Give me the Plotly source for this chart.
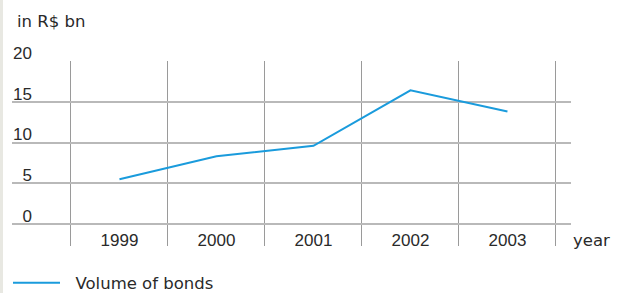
import plotly.graph_objects as go

years = [1999, 2000, 2001, 2002, 2003]
volume = [5.5, 8.3, 9.6, 16.4, 13.8]
y_ticks = [0, 5, 10, 15, 20]
x_grid = [1998.5, 1999.5, 2000.5, 2001.5, 2002.5, 2003.5]
series_name = "Volume of bonds"

FONT = "Liberation Sans"
FONT2 = "DejaVu Sans"
TXT = "#2a2a2a"
BLUE = "#1a9bdc"
FS = 17
FS2 = 16.5

W, H = 624, 293
L, R, T, B = 12, 53, 61, 47
pw = W - L - R
ph = H - T - B

xr = [1997.892, 2003.655]
yr = [-2.7, 20]

fig = go.Figure()
fig.add_trace(go.Scatter(x=years, y=volume, mode="lines", name="\u00a0\u00a0" + series_name,
                         line=dict(color=BLUE, width=2), showlegend=True))
# helper trace for the label axes
fig.add_trace(go.Scatter(x=years, y=volume, mode="lines", xaxis="x2", yaxis="y2",
                         line=dict(color="rgba(0,0,0,0)"), showlegend=False, hoverinfo="skip"))

fig.update_layout(
    width=W, height=H,
    margin=dict(l=L, r=R, t=T, b=B, pad=0, autoexpand=False),
    paper_bgcolor="white", plot_bgcolor="white",
    font=dict(family=FONT, size=FS, color=TXT),
    xaxis=dict(range=xr, tickvals=x_grid, showticklabels=False, showgrid=True,
               gridcolor="#9a9a9a", gridwidth=1, zeroline=False, showline=False, ticks="",
               automargin=False),
    yaxis=dict(range=yr, tickvals=y_ticks, showticklabels=False, showgrid=True,
               gridcolor="#b9b9b9", gridwidth=2, zeroline=False, showline=False, ticks="",
               automargin=False),
    xaxis2=dict(range=xr, overlaying="x", anchor="free", position=(ph - (228 - T)) / ph,
                tickvals=years, ticktext=[str(y) for y in years], showgrid=False,
                zeroline=False, showline=False, ticks="", side="bottom", automargin=False),
    yaxis2=dict(range=yr, overlaying="y", anchor="free", position=20 / pw,
                tickvals=y_ticks, ticktext=[str(v) for v in y_ticks], showgrid=False,
                zeroline=False, showline=False, ticks="", side="left",
                ticklabelshift=-8, automargin=False),
    legend=dict(xref="container", yref="container", x=8 / W, y=1 - 283 / H,
                xanchor="left", yanchor="middle", orientation="h", itemwidth=47,
                font=dict(family=FONT2, size=FS2, color=TXT), bgcolor="rgba(0,0,0,0)"),
    annotations=[
        dict(text="in R$ bn", xref="paper", yref="paper", x=(15 - L) / pw, y=(ph + T - 22) / ph,
             xanchor="left", yanchor="middle", showarrow=False,
             font=dict(family=FONT2, size=FS2, color=TXT)),
        dict(text="year", xref="paper", yref="paper", x=(571 - L) / pw, y=(ph + T - 240) / ph,
             xanchor="left", yanchor="middle", showarrow=False,
             font=dict(family=FONT2, size=FS2, color=TXT)),
    ],
    shapes=[dict(type="rect", xref="paper", yref="paper", x0=-L / pw, x1=(3 - L) / pw,
                 y0=-B / ph, y1=(ph + T) / ph, fillcolor="#e8e8e2", line=dict(width=0), layer="below")],
    showlegend=True,
)

fig.write_html("out.html", config={"displayModeBar": False},
               post_script="document.body.style.margin='0';document.body.style.overflow='hidden';")
